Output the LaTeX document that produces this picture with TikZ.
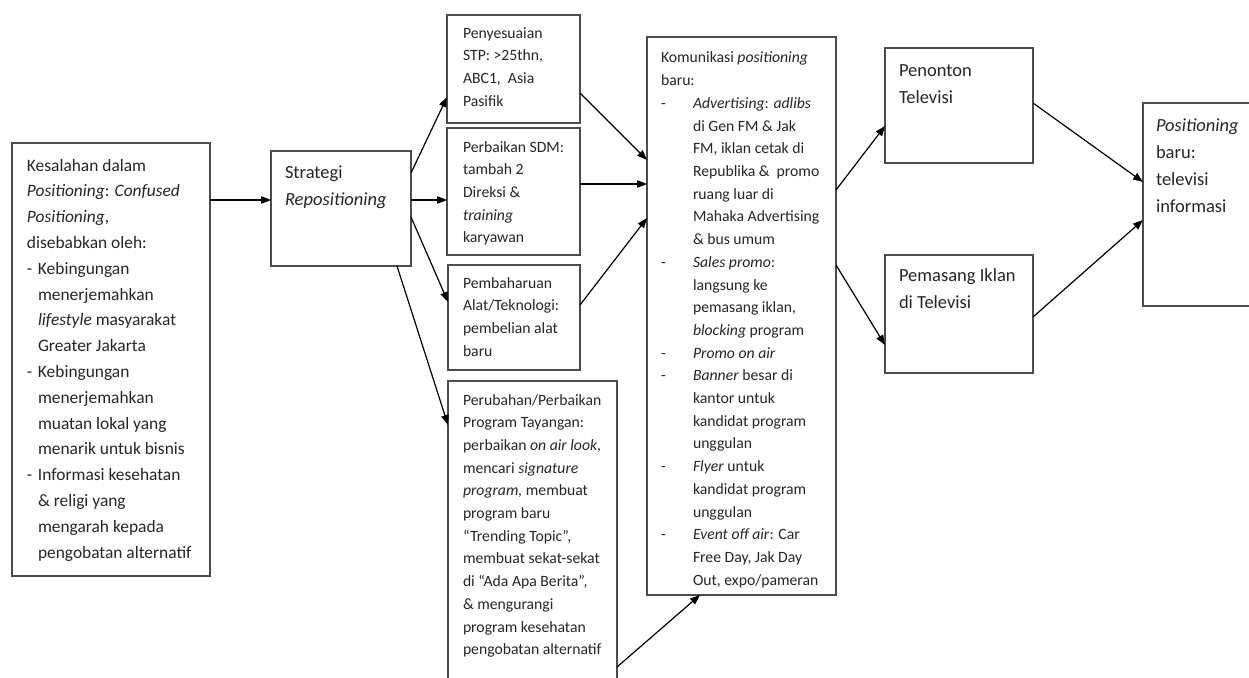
\documentclass[tikz,border=0pt]{standalone}
\usepackage{fontspec}
\setmainfont{Carlito}
\usetikzlibrary{arrows.meta}

% text sizes (one unit = one pixel of the layout grid)
\newcommand\bigtxt{\fontsize{18.5}{27}\selectfont}
\newcommand\lefttxt{\fontsize{17.4}{25.8}\selectfont}
\newcommand\midtxt{\fontsize{15.7}{22.7}\selectfont}
% bullet helpers
\newcommand\ldash{\makebox[11pt][l]{-}}
\newcommand\lind{\hspace*{11pt}}
\newcommand\cdash{\makebox[32pt][l]{-}}
\newcommand\cind{\hspace*{32pt}}
\newcommand\lines[1]{\parbox[t]{400pt}{\raggedright #1}}

\tikzset{
  box/.style={draw=black!70, line width=1.2pt, inner sep=0pt, outer sep=0pt, anchor=north west},
  txt/.style={anchor=base west, inner sep=0pt, outer sep=0pt, text=black!85},
  arr/.style={-{Triangle[length=10pt,width=7.5pt]}, line width=1.2pt, black},
}

\begin{document}
\begin{tikzpicture}[x=1pt, y=-1pt]
\clip (0,0) rectangle (1249,677);
\fill[white] (0,0) rectangle (1249,677);

% boxes
\node[box, minimum width=198pt, minimum height=433pt] (L)  at (12,143) {};
\node[box, minimum width=140pt, minimum height=115pt] (S)  at (271,151) {};
\node[box, minimum width=133pt, minimum height=108pt] (B1) at (447,15) {};
\node[box, minimum width=133pt, minimum height=127pt] (B2) at (447,128) {};
\node[box, minimum width=132pt, minimum height=105pt] (B3) at (448,265) {};
\node[box, minimum width=169pt, minimum height=330pt] (B4) at (448,381) {};
\node[box, minimum width=189pt, minimum height=558pt] (C)  at (647,37) {};
\node[box, minimum width=148pt, minimum height=115pt] (P1) at (885,48) {};
\node[box, minimum width=148pt, minimum height=118pt] (P2) at (885,255) {};
\node[box, minimum width=130pt, minimum height=203pt] (R)  at (1143,103) {};

% texts
\node[txt, font=\lefttxt] (Lt) at (27,171) {\lines{%
Kesalahan dalam\\
\textit{Positioning}: \textit{Confused}\\
\textit{Positioning},\\
disebabkan oleh:\\
\ldash Kebingungan\\
\lind menerjemahkan\\
\lind \textit{lifestyle} masyarakat\\
\lind Greater Jakarta\\
\ldash Kebingungan\\
\lind menerjemahkan\\
\lind muatan lokal yang\\
\lind menarik untuk bisnis\\
\ldash Informasi kesehatan\\
\lind \& religi yang\\
\lind mengarah kepada\\
\lind pengobatan alternatif}};

\node[txt, font=\bigtxt] (St) at (285,178) {\lines{%
Strategi\\
\textit{Repositioning}}};

\node[txt, font=\midtxt] (B1t) at (463,38) {\lines{%
Penyesuaian\\
STP: >25thn,\\
ABC1,\ \ Asia\\
Pasifik}};

\node[txt, font=\midtxt] (B2t) at (463,152) {\lines{%
Perbaikan SDM:\\
tambah 2\\
Direksi \&\\
\textit{training}\\
karyawan}};

\node[txt, font=\midtxt] (B3t) at (463,288) {\lines{%
Pembaharuan\\
Alat/Teknologi:\\
pembelian alat\\
baru}};

\node[txt, font=\midtxt] (B4t) at (463,405) {\lines{%
Perubahan/Perbaikan\\
Program Tayangan:\\
perbaikan \textit{on air look},\\
mencari \textit{signature}\\
\textit{program,} membuat\\
program baru\\
“Trending Topic”,\\
membuat sekat-sekat\\
di “Ada Apa Berita”,\\
\& mengurangi\\
program kesehatan\\
pengobatan alternatif}};

\node[txt, font=\midtxt] (Ct) at (661,63) {\lines{%
Komunikasi \textit{positioning}\\
baru:\\
\cdash\textit{Advertising}: \textit{adlibs}\\
\cind di Gen FM \& Jak\\
\cind FM, iklan cetak di\\
\cind Republika \&\ \ promo\\
\cind ruang luar di\\
\cind Mahaka Advertising\\
\cind \& bus umum\\
\cdash\textit{Sales promo}:\\
\cind langsung ke\\
\cind pemasang iklan,\\
\cind \textit{blocking} program\\
\cdash\textit{Promo on air}\\
\cdash\textit{Banner} besar di\\
\cind kantor untuk\\
\cind kandidat program\\
\cind unggulan\\
\cdash\textit{Flyer} untuk\\
\cind kandidat program\\
\cind unggulan\\
\cdash\textit{Event off air}: Car\\
\cind Free Day, Jak Day\\
\cind Out, expo/pameran}};

\node[txt, font=\bigtxt] (P1t) at (899,76) {\lines{%
Penonton\\
Televisi}};

\node[txt, font=\bigtxt] (P2t) at (899,281) {\lines{%
Pemasang Iklan\\
di Televisi}};

\node[txt, font=\bigtxt] (Rt) at (1156,131) {\lines{%
\textit{Positioning}\\
baru:\\
televisi\\
informasi}};

% connectors
\draw[arr] ([yshift=-57pt]L.north east) -- ([yshift=-49pt]S.north west);
\draw[arr] ([yshift=-22pt]S.north east) -- ([yshift=-82pt]B1.north west);
\draw[arr] ([yshift=-49pt]S.north east) -- ([yshift=-72pt]B2.north west);
\draw[arr] ([yshift=-66pt]S.north east) -- ([yshift=-37pt]B3.north west);
\draw[arr] ([xshift=-14pt]S.south east) -- ([yshift=-44pt]B4.north west);
\draw[arr] ([yshift=-78pt]B1.north east) -- ([yshift=-123pt]C.north west);
\draw[arr] ([yshift=-56pt]B2.north east) -- ([yshift=-147pt]C.north west);
\draw[arr] ([yshift=-40pt]B3.north east) -- ([yshift=-181pt]C.north west);
\draw[arr] ([yshift=-286pt]B4.north east) -- ([xshift=53pt]C.south west);
\draw[arr] ([yshift=-153pt]C.north east) -- ([yshift=-78pt]P1.north west);
\draw[arr] ([yshift=-228pt]C.north east) -- ([yshift=-90pt]P2.north west);
\draw[arr] ([yshift=-55pt]P1.north east) -- ([yshift=-79pt]R.north west);
\draw[arr] ([yshift=-62pt]P2.north east) -- ([yshift=-117pt]R.north west);
\end{tikzpicture}
\end{document}
